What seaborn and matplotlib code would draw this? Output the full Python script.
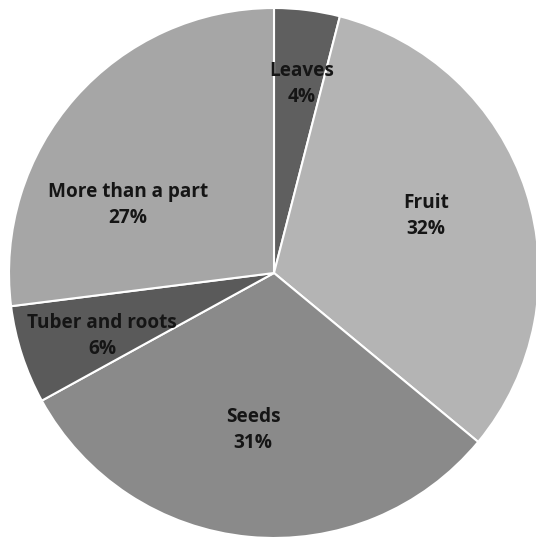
import numpy as np
import matplotlib
matplotlib.use("Agg")
import matplotlib.pyplot as plt
import seaborn as sns

categories = ["Leaves", "Fruit", "Seeds", "Tuber and roots", "More than a part"]
shares = [4, 32, 31, 6, 27]
colors = ["#5f5f5f", "#b4b4b4", "#8a8a8a", "#5a5a5a", "#a6a6a6"]
# label anchor positions in pie-radius units (style, not data)
label_xy = [(0.106, 0.713), (0.574, 0.215), (-0.079, -0.592), (-0.649, -0.238), (-0.551, 0.257)]

sns.set_style("white")
plt.rcParams["font.family"] = ["Open Sans", "DejaVu Sans"]

fig = plt.figure(figsize=(5.36, 5.38), dpi=100)
ax = fig.add_axes([0, 0, 1, 1])
wedges, _ = ax.pie(shares, colors=colors, startangle=90, counterclock=False,
                   radius=1.0, wedgeprops=dict(edgecolor="white", linewidth=1.5))
for cat, val, (x, y) in zip(categories, shares, label_xy):
    ax.text(x, y, f"{cat}\n{val}%", ha="center", va="center",
            fontsize=13.7, fontweight="bold", color="#151515", linespacing=1.45)
ax.set_xlim(-274 / 265, (536 - 274) / 265)
ax.set_ylim(-(538 - 273) / 265, 273 / 265)
ax.set_aspect("equal")
ax.axis("off")
fig.savefig("out.png", dpi=100, facecolor="white")
